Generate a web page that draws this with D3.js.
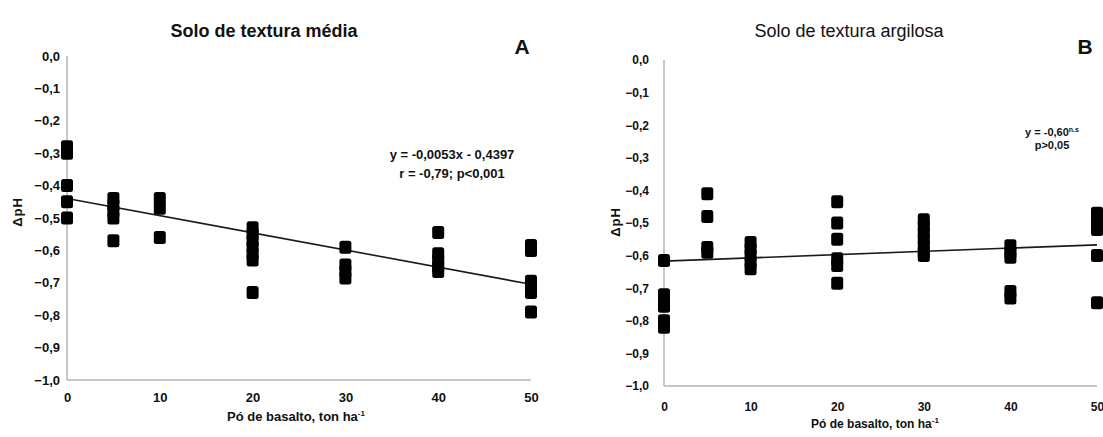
<!DOCTYPE html>
<html>
<head>
<meta charset="utf-8">
<script src="https://cdn.jsdelivr.net/npm/d3@7"></script>
<style>
  body { margin: 0; background: #fff; }
  svg { display: block; }
  text { font-family: "Liberation Sans", Arial, sans-serif; fill: #111; }
  .tick text { font-weight: bold; }
  .domain { stroke: #b4b4b4; stroke-width: 1.5; }
</style>
</head>
<body>
<div id="chart"></div>
<script>
// Data
var xTicks = [0, 10, 20, 30, 40, 50];
var yTicks = [0, -0.1, -0.2, -0.3, -0.4, -0.5, -0.6, -0.7, -0.8, -0.9, -1.0];

// Panel A - Solo de textura média
var doseA = [0, 0, 0, 0, 0,
  5, 5, 5, 5, 5,
  10, 10, 10,
  20, 20, 20, 20, 20, 20, 20,
  30, 30, 30, 30,
  40, 40, 40, 40, 40,
  50, 50, 50, 50, 50, 50];
var phA = [-0.28, -0.30, -0.40, -0.45, -0.50,
  -0.44, -0.46, -0.48, -0.50, -0.57,
  -0.44, -0.47, -0.56,
  -0.53, -0.55, -0.57, -0.59, -0.61, -0.63, -0.73,
  -0.59, -0.645, -0.665, -0.685,
  -0.545, -0.61, -0.63, -0.65, -0.665,
  -0.585, -0.60, -0.695, -0.71, -0.73, -0.79];
var slopeA = -0.0053, interceptA = -0.4397;
var eqA = ["y = -0,0053x - 0,4397", "r = -0,79; p<0,001"];

// Panel B - Solo de textura argilosa
var doseB = [0, 0, 0, 0, 0, 0,
  5, 5, 5, 5,
  10, 10, 10, 10, 10,
  20, 20, 20, 20, 20, 20,
  30, 30, 30, 30, 30, 30, 30,
  40, 40, 40, 40, 40,
  50, 50, 50, 50, 50, 50];
var phB = [-0.615, -0.72, -0.74, -0.755, -0.80, -0.82,
  -0.41, -0.48, -0.575, -0.59,
  -0.56, -0.58, -0.60, -0.62, -0.64,
  -0.435, -0.50, -0.55, -0.61, -0.63, -0.685,
  -0.49, -0.51, -0.53, -0.55, -0.57, -0.59, -0.60,
  -0.57, -0.59, -0.605, -0.71, -0.73,
  -0.47, -0.49, -0.51, -0.52, -0.60, -0.745];
var slopeB = 0.001, interceptB = -0.617;
var eqB = ["y = -0,60", "p>0,05"];

var svg = d3.select("#chart")
  .append("svg")
  .attr("width", 1103)
  .attr("height", 437);

var fmt = function(d) { return d3.format(".1f")(d).replace(".", ","); };

function drawPanel(p) {
  var x = d3.scaleLinear().domain([0, 50]).range([p.x0, p.x1]);
  var y = d3.scaleLinear().domain([0, -1]).range([p.y0, p.y1]);

  // axes
  svg.append("g")
    .attr("transform", `translate(${p.x0}, 0)`)
    .attr("font-size", p.tickSize)
    .call(d3.axisLeft(y).tickValues(yTicks).tickFormat(fmt).tickSize(0).tickPadding(p.yPad))
    .call(g => g.attr("font-size", p.tickSize))
    .call(g => g.select(".domain").attr("d", `M0,${p.y0}V${p.y1}`));

  svg.append("g")
    .attr("transform", `translate(0, ${p.y1})`)
    .call(d3.axisBottom(x).tickValues(xTicks).tickFormat(d3.format("d")).tickSize(0).tickPadding(p.xPad))
    .call(g => g.attr("font-size", p.tickSize))
    .call(g => g.select(".domain").attr("d", `M${p.x0},0H${p.x1}`));

  // regression line
  svg.append("line")
    .attr("x1", x(0)).attr("y1", y(p.intercept))
    .attr("x2", x(50)).attr("y2", y(p.intercept + p.slope * 50))
    .attr("stroke", "#1a1a1a")
    .attr("stroke-width", 1.6);

  // points
  svg.append("g").selectAll("rect")
    .data(p.dose)
    .enter()
    .append("rect")
    .attr("x", d => x(d) - 6)
    .attr("y", (d, i) => y(p.ph[i]) - 6.5)
    .attr("width", 12)
    .attr("height", 13)
    .attr("rx", 2.5)
    .attr("fill", "#000");

  // titles
  svg.append("text")
    .attr("x", p.titleX).attr("y", 37)
    .attr("text-anchor", "middle")
    .attr("font-size", "18px")
    .attr("font-weight", p.titleBold ? "bold" : "normal")
    .text(p.title);

  svg.append("text")
    .attr("x", p.letterX).attr("y", 54)
    .attr("text-anchor", "middle")
    .attr("font-size", "21px")
    .attr("font-weight", "bold")
    .text(p.letter);

  // y axis title
  svg.append("text")
    .attr("transform", `translate(${p.yTitleX}, ${p.yTitleY}) rotate(-90)`)
    .attr("text-anchor", "middle")
    .attr("font-size", "13px")
    .attr("font-weight", "bold")
    .attr("letter-spacing", "1px")
    .text("ΔpH");

  // x axis title
  var xt = svg.append("text")
    .attr("x", p.xTitleX).attr("y", p.xTitleY)
    .attr("text-anchor", "middle")
    .attr("font-size", p.xTitleSize)
    .attr("font-weight", "bold");
  xt.append("tspan").text("Pó de basalto, ton ha");
  xt.append("tspan").attr("font-size", "8px").attr("dy", "-5").text("-1");

  return { x: x, y: y };
}

drawPanel({
  x0: 67, x1: 531, y0: 56, y1: 380, xPad: 13, yPad: 7, tickSize: "13px",
  dose: doseA, ph: phA, slope: slopeA, intercept: interceptA,
  title: "Solo de textura média", titleBold: true, titleX: 264,
  letter: "A", letterX: 522,
  yTitleX: 22, yTitleY: 212,
  xTitleX: 296, xTitleY: 421, xTitleSize: "13px"
});

drawPanel({
  x0: 664, x1: 1097, y0: 60, y1: 386, xPad: 16, yPad: 15, tickSize: "12px",
  dose: doseB, ph: phB, slope: slopeB, intercept: interceptB,
  title: "Solo de textura argilosa", titleBold: false, titleX: 849,
  letter: "B", letterX: 1085,
  yTitleX: 620, yTitleY: 222,
  xTitleX: 875, xTitleY: 428, xTitleSize: "12px"
});

// Regression annotations
svg.append("g").selectAll("text")
  .data(eqA)
  .enter()
  .append("text")
  .attr("x", 452)
  .attr("y", (d, i) => 159 + i * 19)
  .attr("text-anchor", "middle")
  .attr("font-size", "13px")
  .attr("font-weight", "bold")
  .text(d => d);

var eqBText = svg.append("g").selectAll("text")
  .data(eqB)
  .enter()
  .append("text")
  .attr("x", 1052)
  .attr("y", (d, i) => 136 + i * 13)
  .attr("text-anchor", "middle")
  .attr("font-size", "11px")
  .attr("font-weight", "bold")
  .text(d => d);

// superscript on the first line of panel B
eqBText.filter((d, i) => i === 0)
  .append("tspan")
  .attr("font-size", "7px")
  .attr("dy", "-4")
  .text("n.s");
</script>
</body>
</html>
